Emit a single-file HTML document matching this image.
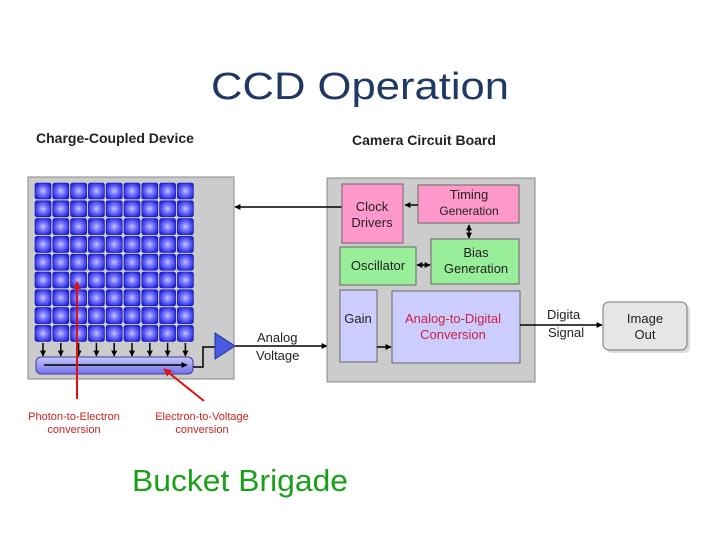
<!DOCTYPE html>
<html><head><meta charset="utf-8"><style>html,body{margin:0;padding:0;background:#fff}svg{display:block}</style></head>
<body>
<svg width="720" height="540" viewBox="0 0 720 540" xmlns="http://www.w3.org/2000/svg" font-family="Liberation Sans, sans-serif">
<defs>
<radialGradient id="cell" cx="0.5" cy="0.5" r="0.6">
<stop offset="0" stop-color="#c8c8ff"/><stop offset="0.35" stop-color="#8080ff"/><stop offset="1" stop-color="#1a1ae0"/>
</radialGradient>
<linearGradient id="bar" x1="0" y1="0" x2="0" y2="1"><stop offset="0" stop-color="#c8c8ff"/><stop offset="1" stop-color="#7070e8"/></linearGradient>
<marker id="ah" viewBox="0 0 10 10" refX="9" refY="5" markerWidth="4" markerHeight="4" orient="auto-start-reverse"><path d="M0,0L10,5L0,10z" fill="#000"/></marker>
<marker id="rh" viewBox="0 0 10 10" refX="9" refY="5" markerWidth="4" markerHeight="4" orient="auto"><path d="M0,0L10,5L0,10z" fill="#e01010"/></marker>
</defs>
<text x="360" y="99" font-size="38" fill="#1f3864" text-anchor="middle" textLength="298" lengthAdjust="spacingAndGlyphs">CCD Operation</text>
<text x="36" y="143" font-size="14" font-weight="bold" fill="#222">Charge-Coupled Device</text>
<text x="352" y="145" font-size="14" font-weight="bold" fill="#222">Camera Circuit Board</text>

<rect x="28" y="177" width="206" height="202" fill="#cccccc" stroke="#888"/>
<g>
<g fill="url(#cell)" stroke="#1010a0" stroke-width="0.6">
<rect x="35" y="183" width="16" height="16" rx="2"/><rect x="52.8" y="183" width="16" height="16" rx="2"/><rect x="70.6" y="183" width="16" height="16" rx="2"/><rect x="88.4" y="183" width="16" height="16" rx="2"/><rect x="106.2" y="183" width="16" height="16" rx="2"/><rect x="124" y="183" width="16" height="16" rx="2"/><rect x="141.8" y="183" width="16" height="16" rx="2"/><rect x="159.6" y="183" width="16" height="16" rx="2"/><rect x="177.4" y="183" width="16" height="16" rx="2"/>
<rect x="35" y="200.8" width="16" height="16" rx="2"/><rect x="52.8" y="200.8" width="16" height="16" rx="2"/><rect x="70.6" y="200.8" width="16" height="16" rx="2"/><rect x="88.4" y="200.8" width="16" height="16" rx="2"/><rect x="106.2" y="200.8" width="16" height="16" rx="2"/><rect x="124" y="200.8" width="16" height="16" rx="2"/><rect x="141.8" y="200.8" width="16" height="16" rx="2"/><rect x="159.6" y="200.8" width="16" height="16" rx="2"/><rect x="177.4" y="200.8" width="16" height="16" rx="2"/>
<rect x="35" y="218.6" width="16" height="16" rx="2"/><rect x="52.8" y="218.6" width="16" height="16" rx="2"/><rect x="70.6" y="218.6" width="16" height="16" rx="2"/><rect x="88.4" y="218.6" width="16" height="16" rx="2"/><rect x="106.2" y="218.6" width="16" height="16" rx="2"/><rect x="124" y="218.6" width="16" height="16" rx="2"/><rect x="141.8" y="218.6" width="16" height="16" rx="2"/><rect x="159.6" y="218.6" width="16" height="16" rx="2"/><rect x="177.4" y="218.6" width="16" height="16" rx="2"/>
<rect x="35" y="236.4" width="16" height="16" rx="2"/><rect x="52.8" y="236.4" width="16" height="16" rx="2"/><rect x="70.6" y="236.4" width="16" height="16" rx="2"/><rect x="88.4" y="236.4" width="16" height="16" rx="2"/><rect x="106.2" y="236.4" width="16" height="16" rx="2"/><rect x="124" y="236.4" width="16" height="16" rx="2"/><rect x="141.8" y="236.4" width="16" height="16" rx="2"/><rect x="159.6" y="236.4" width="16" height="16" rx="2"/><rect x="177.4" y="236.4" width="16" height="16" rx="2"/>
<rect x="35" y="254.2" width="16" height="16" rx="2"/><rect x="52.8" y="254.2" width="16" height="16" rx="2"/><rect x="70.6" y="254.2" width="16" height="16" rx="2"/><rect x="88.4" y="254.2" width="16" height="16" rx="2"/><rect x="106.2" y="254.2" width="16" height="16" rx="2"/><rect x="124" y="254.2" width="16" height="16" rx="2"/><rect x="141.8" y="254.2" width="16" height="16" rx="2"/><rect x="159.6" y="254.2" width="16" height="16" rx="2"/><rect x="177.4" y="254.2" width="16" height="16" rx="2"/>
<rect x="35" y="272" width="16" height="16" rx="2"/><rect x="52.8" y="272" width="16" height="16" rx="2"/><rect x="70.6" y="272" width="16" height="16" rx="2"/><rect x="88.4" y="272" width="16" height="16" rx="2"/><rect x="106.2" y="272" width="16" height="16" rx="2"/><rect x="124" y="272" width="16" height="16" rx="2"/><rect x="141.8" y="272" width="16" height="16" rx="2"/><rect x="159.6" y="272" width="16" height="16" rx="2"/><rect x="177.4" y="272" width="16" height="16" rx="2"/>
<rect x="35" y="289.8" width="16" height="16" rx="2"/><rect x="52.8" y="289.8" width="16" height="16" rx="2"/><rect x="70.6" y="289.8" width="16" height="16" rx="2"/><rect x="88.4" y="289.8" width="16" height="16" rx="2"/><rect x="106.2" y="289.8" width="16" height="16" rx="2"/><rect x="124" y="289.8" width="16" height="16" rx="2"/><rect x="141.8" y="289.8" width="16" height="16" rx="2"/><rect x="159.6" y="289.8" width="16" height="16" rx="2"/><rect x="177.4" y="289.8" width="16" height="16" rx="2"/>
<rect x="35" y="307.6" width="16" height="16" rx="2"/><rect x="52.8" y="307.6" width="16" height="16" rx="2"/><rect x="70.6" y="307.6" width="16" height="16" rx="2"/><rect x="88.4" y="307.6" width="16" height="16" rx="2"/><rect x="106.2" y="307.6" width="16" height="16" rx="2"/><rect x="124" y="307.6" width="16" height="16" rx="2"/><rect x="141.8" y="307.6" width="16" height="16" rx="2"/><rect x="159.6" y="307.6" width="16" height="16" rx="2"/><rect x="177.4" y="307.6" width="16" height="16" rx="2"/>
<rect x="35" y="325.4" width="16" height="16" rx="2"/><rect x="52.8" y="325.4" width="16" height="16" rx="2"/><rect x="70.6" y="325.4" width="16" height="16" rx="2"/><rect x="88.4" y="325.4" width="16" height="16" rx="2"/><rect x="106.2" y="325.4" width="16" height="16" rx="2"/><rect x="124" y="325.4" width="16" height="16" rx="2"/><rect x="141.8" y="325.4" width="16" height="16" rx="2"/><rect x="159.6" y="325.4" width="16" height="16" rx="2"/><rect x="177.4" y="325.4" width="16" height="16" rx="2"/>
</g>
<g stroke="#000" stroke-width="1.5" marker-end="url(#ah)">
<line x1="43" y1="343" x2="43" y2="356"/><line x1="60.8" y1="343" x2="60.8" y2="356"/><line x1="78.6" y1="343" x2="78.6" y2="356"/><line x1="96.4" y1="343" x2="96.4" y2="356"/><line x1="114.2" y1="343" x2="114.2" y2="356"/><line x1="132" y1="343" x2="132" y2="356"/><line x1="149.8" y1="343" x2="149.8" y2="356"/><line x1="167.6" y1="343" x2="167.6" y2="356"/><line x1="185.4" y1="343" x2="185.4" y2="356"/>
</g>
<rect x="36" y="357" width="157" height="17" rx="5" fill="url(#bar)" stroke="#4040a0"/>
<line x1="44" y1="365" x2="187" y2="365" stroke="#000" stroke-width="1.5" marker-end="url(#ah)"/>
<polyline points="193,367 203,367 203,347 215,347" fill="none" stroke="#000" stroke-width="1.5"/>
<polygon points="215,333 235,346 215,359" fill="#4a5ae0" stroke="#2030a0"/>
<line x1="235" y1="346" x2="327" y2="346" stroke="#000" stroke-width="1.5" marker-end="url(#ah)"/>
<text x="257" y="342" font-size="13" fill="#222">Analog</text>
<text x="256" y="360" font-size="13" fill="#222">Voltage</text>
</g>

<rect x="327" y="178" width="208" height="204" fill="#cccccc" stroke="#888"/>
<line x1="342" y1="207" x2="235" y2="207" stroke="#000" stroke-width="1.5" marker-end="url(#ah)"/>
<rect x="342" y="184" width="61" height="59" fill="#ff99cc" stroke="#666"/>
<text x="372" y="211" font-size="13" fill="#222" text-anchor="middle">Clock</text>
<text x="372" y="227" font-size="13" fill="#222" text-anchor="middle">Drivers</text>
<rect x="418" y="185" width="101" height="38" fill="#ff99cc" stroke="#666"/>
<text x="469" y="199" font-size="13" fill="#222" text-anchor="middle">Timing</text>
<text x="469" y="215" font-size="12" fill="#222" text-anchor="middle">Generation</text>
<line x1="418" y1="205" x2="405" y2="205" stroke="#000" stroke-width="1.5" marker-end="url(#ah)"/>
<line x1="469" y1="225" x2="469" y2="238" stroke="#000" stroke-width="1.5" marker-start="url(#ah)" marker-end="url(#ah)"/>
<rect x="340" y="247" width="76" height="38" fill="#99ee99" stroke="#666"/>
<text x="378" y="270" font-size="13" fill="#222" text-anchor="middle">Oscillator</text>
<rect x="431" y="239" width="88" height="45" fill="#99ee99" stroke="#666"/>
<text x="476" y="257" font-size="13" fill="#222" text-anchor="middle">Bias</text>
<text x="476" y="273" font-size="13" fill="#222" text-anchor="middle">Generation</text>
<line x1="417" y1="265" x2="430" y2="265" stroke="#000" stroke-width="1.5" marker-start="url(#ah)" marker-end="url(#ah)"/>
<rect x="340" y="290" width="37" height="72" fill="#ccccff" stroke="#666"/>
<text x="358" y="323" font-size="13" fill="#222" text-anchor="middle">Gain</text>
<rect x="392" y="291" width="128" height="72" fill="#ccccff" stroke="#666"/>
<text x="453" y="323" font-size="13" fill="#cc2244" text-anchor="middle">Analog-to-Digital</text>
<text x="453" y="339" font-size="13" fill="#cc2244" text-anchor="middle">Conversion</text>
<line x1="377" y1="347" x2="391" y2="347" stroke="#000" stroke-width="1.5" marker-end="url(#ah)"/>
<line x1="520" y1="325" x2="602" y2="325" stroke="#000" stroke-width="1.5" marker-end="url(#ah)"/>
<text x="547" y="319" font-size="13" fill="#222">Digita</text>
<text x="548" y="337" font-size="13" fill="#222">Signal</text>
<rect x="606" y="304" width="84" height="49" rx="6" fill="#bbb" opacity="0.5"/>
<rect x="603" y="302" width="84" height="48" rx="6" fill="#e6e6e6" stroke="#777"/>
<text x="645" y="323" font-size="13" fill="#222" text-anchor="middle">Image</text>
<text x="645" y="339" font-size="13" fill="#222" text-anchor="middle">Out</text>

<line x1="77" y1="399" x2="77" y2="282" stroke="#e01010" stroke-width="2" marker-end="url(#rh)"/>
<line x1="204" y1="401" x2="164" y2="369" stroke="#e01010" stroke-width="2" marker-end="url(#rh)"/>
<text x="74" y="420" font-size="11" fill="#cc2222" text-anchor="middle">Photon-to-Electron</text>
<text x="74" y="433" font-size="11" fill="#cc2222" text-anchor="middle">conversion</text>
<text x="202" y="420" font-size="11" fill="#cc2222" text-anchor="middle">Electron-to-Voltage</text>
<text x="202" y="433" font-size="11" fill="#cc2222" text-anchor="middle">conversion</text>

<text x="240" y="491" font-size="31" fill="#1aa01a" text-anchor="middle" textLength="216" lengthAdjust="spacingAndGlyphs">Bucket Brigade</text>
</svg>
</body></html>
